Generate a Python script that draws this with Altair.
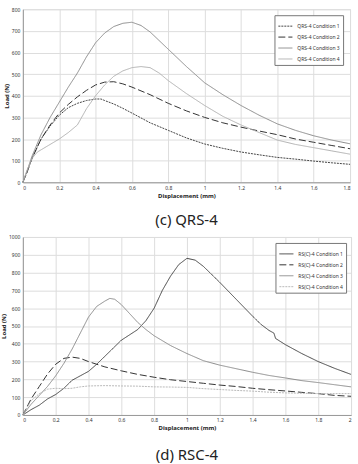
import altair as alt
import pandas as pd

# ---- (c) QRS-4 ----
qrs_c1_x = [0, 0.02, 0.05, 0.1, 0.15, 0.2, 0.25, 0.3, 0.35, 0.4, 0.43, 0.45, 0.5, 0.55, 0.6, 0.7, 0.8, 0.9, 1.0, 1.1, 1.2, 1.3, 1.4, 1.5, 1.6, 1.7, 1.8]
qrs_c1_y = [0, 40, 110, 200, 260, 310, 345, 365, 378, 385, 385, 378, 362, 342, 320, 275, 240, 205, 177, 157, 140, 127, 115, 107, 98, 90, 83]
qrs_c2_x = [0, 0.02, 0.05, 0.1, 0.15, 0.2, 0.25, 0.3, 0.35, 0.4, 0.45, 0.5, 0.55, 0.6, 0.7, 0.8, 0.9, 1.0, 1.1, 1.2, 1.3, 1.4, 1.5, 1.6, 1.7, 1.8]
qrs_c2_y = [0, 40, 110, 200, 265, 320, 360, 395, 425, 450, 463, 465, 455, 440, 405, 365, 330, 300, 275, 255, 237, 220, 200, 185, 170, 155]
qrs_c3_x = [0, 0.02, 0.05, 0.1, 0.15, 0.2, 0.25, 0.3, 0.35, 0.4, 0.45, 0.5, 0.55, 0.6, 0.65, 0.7, 0.8, 0.9, 1.0, 1.1, 1.2, 1.3, 1.4, 1.5, 1.6, 1.7, 1.8]
qrs_c3_y = [0, 45, 120, 220, 300, 370, 440, 505, 580, 645, 690, 720, 735, 740, 725, 695, 615, 535, 460, 405, 355, 310, 270, 240, 215, 195, 178]
qrs_c4_x = [0, 0.02, 0.05, 0.08, 0.1, 0.15, 0.2, 0.25, 0.3, 0.33, 0.35, 0.4, 0.45, 0.5, 0.55, 0.6, 0.65, 0.7, 0.75, 0.8, 0.9, 1.0, 1.1, 1.2, 1.3, 1.4, 1.5, 1.6, 1.7, 1.8]
qrs_c4_y = [0, 50, 110, 140, 150, 175, 200, 230, 265, 310, 340, 400, 450, 490, 515, 530, 535, 530, 505, 470, 410, 355, 305, 265, 230, 195, 175, 160, 145, 130]
qrs_names = ["QRS-4 Condition 1", "QRS-4 Condition 2", "QRS-4 Condition 3", "QRS-4 Condition 4"]

# ---- (d) RSC-4 ----
rsc_c1_x = [0, 0.05, 0.1, 0.15, 0.2, 0.25, 0.3, 0.35, 0.4, 0.45, 0.5, 0.55, 0.6, 0.65, 0.7, 0.75, 0.8, 0.85, 0.9, 0.95, 1.0, 1.05, 1.1, 1.2, 1.3, 1.4, 1.45, 1.5, 1.53, 1.54, 1.6, 1.7, 1.8, 1.9, 2.0]
rsc_c1_y = [0, 30, 55, 90, 115, 150, 195, 220, 245, 285, 330, 375, 420, 450, 480, 530, 600, 700, 780, 845, 880, 870, 835, 745, 650, 555, 510, 475, 460, 430, 395, 345, 300, 262, 228]
rsc_c2_x = [0, 0.05, 0.1, 0.15, 0.2, 0.25, 0.3, 0.35, 0.4, 0.5, 0.6, 0.7, 0.8, 0.9, 1.0, 1.1, 1.2, 1.3, 1.4, 1.5, 1.6, 1.7, 1.8, 1.9, 2.0]
rsc_c2_y = [0, 90, 160, 230, 285, 318, 325, 318, 300, 270, 248, 228, 212, 198, 188, 178, 168, 160, 150, 142, 135, 127, 120, 110, 105]
rsc_c3_x = [0, 0.05, 0.1, 0.15, 0.2, 0.25, 0.3, 0.35, 0.4, 0.45, 0.5, 0.53, 0.56, 0.6, 0.65, 0.7, 0.75, 0.8, 0.9, 1.0, 1.1, 1.2, 1.3, 1.4, 1.5, 1.6, 1.7, 1.8, 1.9, 2.0]
rsc_c3_y = [0, 60, 110, 160, 220, 290, 370, 460, 550, 610, 640, 655, 650, 620, 570, 520, 480, 445, 390, 345, 305, 280, 260, 240, 222, 208, 193, 182, 170, 158]
rsc_c4_x = [0, 0.05, 0.1, 0.15, 0.2, 0.25, 0.3, 0.35, 0.4, 0.5, 0.6, 0.7, 0.8, 0.9, 1.0, 1.1, 1.2, 1.3, 1.4, 1.5, 1.6, 1.7, 1.8, 1.9, 2.0]
rsc_c4_y = [0, 80, 120, 145, 150, 148, 150, 158, 163, 165, 163, 162, 158, 157, 155, 148, 143, 138, 134, 128, 124, 122, 120, 120, 120]
rsc_names = ["RS(C)-4 Condition 1", "RS(C)-4 Condition 2", "RS(C)-4 Condition 3", "RS(C)-4 Condition 4"]

qrs_ticks_x = [0, 0.2, 0.4, 0.6, 0.8, 1, 1.2, 1.4, 1.6, 1.8]
qrs_ticks_y = [0, 100, 200, 300, 400, 500, 600, 700, 800]
rsc_ticks_x = [0, 0.2, 0.4, 0.6, 0.8, 1, 1.2, 1.4, 1.6, 1.8, 2]
rsc_ticks_y = [0, 100, 200, 300, 400, 500, 600, 700, 800, 900, 1000]


def frame(names, xs, ys):
    rows = []
    for n, xx, yy in zip(names, xs, ys):
        for i, (a, b) in enumerate(zip(xx, yy)):
            rows.append({"series": n, "x": a, "y": b, "order": i})
    return pd.DataFrame(rows)


qrs_df = frame(qrs_names, [qrs_c1_x, qrs_c2_x, qrs_c3_x, qrs_c4_x], [qrs_c1_y, qrs_c2_y, qrs_c3_y, qrs_c4_y])
rsc_df = frame(rsc_names, [rsc_c1_x, rsc_c2_x, rsc_c3_x, rsc_c4_x], [rsc_c1_y, rsc_c2_y, rsc_c3_y, rsc_c4_y])

axis_common = dict(labelFontSize=5, titleFontSize=6, titleFontWeight="bold", labelColor="#333",
                   titleColor="#222", gridColor="#dddddd", domainColor="#999", ticks=False,
                   labelPadding=3)


def panel(df, names, xmax, ymax, xt, yt, colors, dashes, caption, w, h, cap_offset):
    legend = alt.Legend(title=None, orient="none", legendX=w - 76, legendY=6, labelFontSize=5,
                        symbolType="stroke", symbolSize=200, symbolStrokeWidth=1, rowPadding=0,
                        padding=3, strokeColor="#777", fillColor="white", labelColor="#333",
                        labelFont="Noto Sans")
    return alt.Chart(df).mark_line(strokeWidth=1).encode(
        x=alt.X("x:Q", scale=alt.Scale(domain=[0, xmax], nice=False),
                axis=alt.Axis(values=xt, format="~g", title="Displacement (mm)", titlePadding=2, **axis_common)),
        y=alt.Y("y:Q", scale=alt.Scale(domain=[0, ymax], nice=False),
                axis=alt.Axis(values=yt, format="d", title="Load (N)", titlePadding=2, **axis_common)),
        color=alt.Color("series:N", scale=alt.Scale(domain=names, range=colors), legend=legend),
        strokeDash=alt.StrokeDash("series:N", scale=alt.Scale(domain=names, range=dashes), legend=legend),
        order="order:Q",
    ).properties(
        width=w, height=h,
        title=alt.TitleParams(caption, orient="bottom", fontSize=15, fontWeight="normal",
                              font="Noto Sans", color="#222", offset=cap_offset, anchor="middle"),
    )


top = panel(qrs_df, qrs_names, 1.8, 800, qrs_ticks_x, qrs_ticks_y,
            ["#444444", "#333333", "#8a8a8a", "#b0b0b0"],
            [[2, 1], [7, 3], [1, 0], [1, 0]], "(c) QRS-4", 329, 174, 15)
bottom = panel(rsc_df, rsc_names, 2, 1000, rsc_ticks_x, rsc_ticks_y,
               ["#444444", "#333333", "#8a8a8a", "#b8b8b8"],
               [[1, 0], [7, 3], [1, 0], [2, 1]], "(d) RSC-4", 330, 179, 17)

chart = alt.vconcat(top, bottom, spacing=5).resolve_scale(color="independent", strokeDash="independent").properties(
    padding={"left": 0, "top": 5, "right": 4, "bottom": 0}
).configure_view(stroke="#999").configure(font="Noto Sans")

chart.save("out.html", embed_options={"renderer": "svg", "actions": False})
